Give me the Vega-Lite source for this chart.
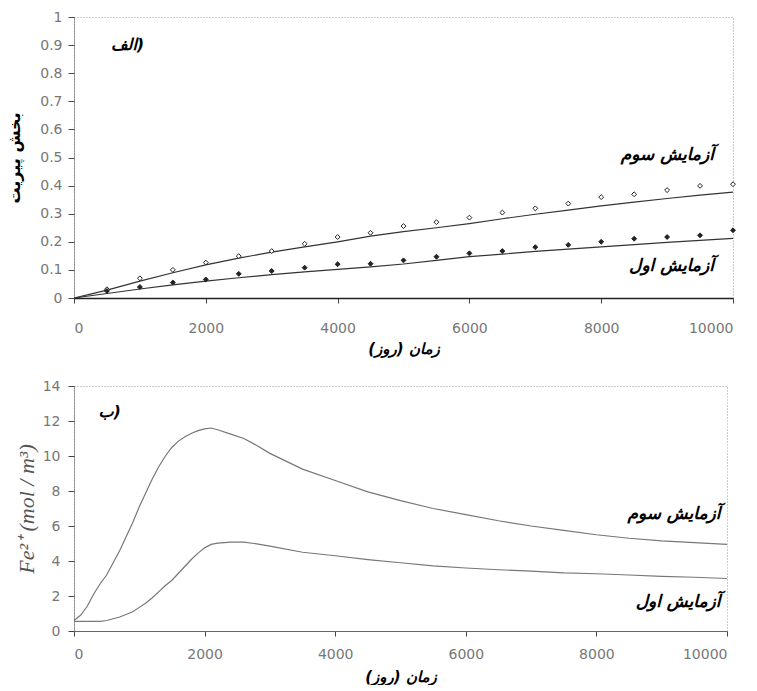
{
  "$schema": "https://vega.github.io/schema/vega-lite/v6.json",
  "background": "white",
  "padding": {"left": 6, "top": 9, "right": 5, "bottom": 0},
  "spacing": 21,
  "config": {
    "view": {"stroke": "#999", "strokeDash": [1, 2], "strokeWidth": 1},
    "axis": {
      "grid": false,
      "labelFont": "DejaVu Sans",
      "labelFontSize": 14,
      "labelColor": "#777",
      "tickColor": "#444",
      "domainColor": "#444"
    },
    "text": {"font": "DejaVu Sans"}
  },
  "datasets": {
    "topLines": [
      {"test": "سوم", "t": 0, "v": 0}, {"test": "سوم", "t": 250, "v": 0.014}, {"test": "سوم", "t": 500, "v": 0.028},
      {"test": "سوم", "t": 1000, "v": 0.06}, {"test": "سوم", "t": 1500, "v": 0.09}, {"test": "سوم", "t": 2000, "v": 0.118},
      {"test": "سوم", "t": 2500, "v": 0.142}, {"test": "سوم", "t": 3000, "v": 0.163}, {"test": "سوم", "t": 3500, "v": 0.182},
      {"test": "سوم", "t": 4000, "v": 0.2}, {"test": "سوم", "t": 4500, "v": 0.22}, {"test": "سوم", "t": 5000, "v": 0.236},
      {"test": "سوم", "t": 5500, "v": 0.25}, {"test": "سوم", "t": 6000, "v": 0.265}, {"test": "سوم", "t": 6500, "v": 0.282},
      {"test": "سوم", "t": 7000, "v": 0.298}, {"test": "سوم", "t": 7500, "v": 0.313}, {"test": "سوم", "t": 8000, "v": 0.328},
      {"test": "سوم", "t": 8500, "v": 0.341}, {"test": "سوم", "t": 9000, "v": 0.354}, {"test": "سوم", "t": 9500, "v": 0.366},
      {"test": "سوم", "t": 10000, "v": 0.377},
      {"test": "اول", "t": 0, "v": 0}, {"test": "اول", "t": 500, "v": 0.016}, {"test": "اول", "t": 1000, "v": 0.032},
      {"test": "اول", "t": 1500, "v": 0.047}, {"test": "اول", "t": 2000, "v": 0.06}, {"test": "اول", "t": 2500, "v": 0.072},
      {"test": "اول", "t": 3000, "v": 0.083}, {"test": "اول", "t": 3500, "v": 0.093}, {"test": "اول", "t": 4000, "v": 0.102},
      {"test": "اول", "t": 4500, "v": 0.111}, {"test": "اول", "t": 5000, "v": 0.121}, {"test": "اول", "t": 5500, "v": 0.134},
      {"test": "اول", "t": 6000, "v": 0.147}, {"test": "اول", "t": 6500, "v": 0.156}, {"test": "اول", "t": 7000, "v": 0.166},
      {"test": "اول", "t": 7500, "v": 0.174}, {"test": "اول", "t": 8000, "v": 0.182}, {"test": "اول", "t": 8500, "v": 0.19},
      {"test": "اول", "t": 9000, "v": 0.198}, {"test": "اول", "t": 9500, "v": 0.205}, {"test": "اول", "t": 10000, "v": 0.212}
    ],
    "topPoints": [
      {"test": "سوم", "t": 500, "v": 0.031}, {"test": "سوم", "t": 1000, "v": 0.07}, {"test": "سوم", "t": 1500, "v": 0.1},
      {"test": "سوم", "t": 2000, "v": 0.126}, {"test": "سوم", "t": 2500, "v": 0.149}, {"test": "سوم", "t": 3000, "v": 0.167},
      {"test": "سوم", "t": 3500, "v": 0.193}, {"test": "سوم", "t": 4000, "v": 0.217}, {"test": "سوم", "t": 4500, "v": 0.232},
      {"test": "سوم", "t": 5000, "v": 0.256}, {"test": "سوم", "t": 5500, "v": 0.27}, {"test": "سوم", "t": 6000, "v": 0.286},
      {"test": "سوم", "t": 6500, "v": 0.304}, {"test": "سوم", "t": 7000, "v": 0.319}, {"test": "سوم", "t": 7500, "v": 0.336},
      {"test": "سوم", "t": 8000, "v": 0.359}, {"test": "سوم", "t": 8500, "v": 0.369}, {"test": "سوم", "t": 9000, "v": 0.384},
      {"test": "سوم", "t": 9500, "v": 0.399}, {"test": "سوم", "t": 10000, "v": 0.405},
      {"test": "اول", "t": 500, "v": 0.025}, {"test": "اول", "t": 1000, "v": 0.039}, {"test": "اول", "t": 1500, "v": 0.055},
      {"test": "اول", "t": 2000, "v": 0.066}, {"test": "اول", "t": 2500, "v": 0.086}, {"test": "اول", "t": 3000, "v": 0.096},
      {"test": "اول", "t": 3500, "v": 0.108}, {"test": "اول", "t": 4000, "v": 0.12}, {"test": "اول", "t": 4500, "v": 0.122},
      {"test": "اول", "t": 5000, "v": 0.134}, {"test": "اول", "t": 5500, "v": 0.147}, {"test": "اول", "t": 6000, "v": 0.159},
      {"test": "اول", "t": 6500, "v": 0.167}, {"test": "اول", "t": 7000, "v": 0.181}, {"test": "اول", "t": 7500, "v": 0.189},
      {"test": "اول", "t": 8000, "v": 0.2}, {"test": "اول", "t": 8500, "v": 0.211}, {"test": "اول", "t": 9000, "v": 0.217},
      {"test": "اول", "t": 9500, "v": 0.223}, {"test": "اول", "t": 10000, "v": 0.241}
    ],
    "topLabels": [
      {"t": 9710, "v": 0.51, "label": "آزمایش سوم"},
      {"t": 9710, "v": 0.115, "label": "آزمایش اول"}
    ],
    "topTag": [{"t": 813, "v": 0.9, "label": "الف)"}],
    "bottomLines": [
      {"test": "سوم", "t": 0, "v": 0.6}, {"test": "سوم", "t": 100, "v": 0.9}, {"test": "سوم", "t": 200, "v": 1.4},
      {"test": "سوم", "t": 300, "v": 2.1}, {"test": "سوم", "t": 400, "v": 2.7}, {"test": "سوم", "t": 500, "v": 3.2},
      {"test": "سوم", "t": 600, "v": 3.9}, {"test": "سوم", "t": 700, "v": 4.6}, {"test": "سوم", "t": 800, "v": 5.4},
      {"test": "سوم", "t": 900, "v": 6.2}, {"test": "سوم", "t": 1000, "v": 7.1}, {"test": "سوم", "t": 1100, "v": 7.9},
      {"test": "سوم", "t": 1200, "v": 8.7}, {"test": "سوم", "t": 1300, "v": 9.4}, {"test": "سوم", "t": 1400, "v": 10.0},
      {"test": "سوم", "t": 1500, "v": 10.5}, {"test": "سوم", "t": 1600, "v": 10.85}, {"test": "سوم", "t": 1700, "v": 11.1},
      {"test": "سوم", "t": 1800, "v": 11.3}, {"test": "سوم", "t": 1900, "v": 11.45}, {"test": "سوم", "t": 2000, "v": 11.55},
      {"test": "سوم", "t": 2100, "v": 11.6}, {"test": "سوم", "t": 2200, "v": 11.5}, {"test": "سوم", "t": 2400, "v": 11.25},
      {"test": "سوم", "t": 2600, "v": 11.0}, {"test": "سوم", "t": 2800, "v": 10.6}, {"test": "سوم", "t": 3000, "v": 10.15},
      {"test": "سوم", "t": 3500, "v": 9.25}, {"test": "سوم", "t": 4000, "v": 8.6}, {"test": "سوم", "t": 4500, "v": 7.95},
      {"test": "سوم", "t": 5000, "v": 7.45}, {"test": "سوم", "t": 5500, "v": 7.0}, {"test": "سوم", "t": 6000, "v": 6.65},
      {"test": "سوم", "t": 6500, "v": 6.3}, {"test": "سوم", "t": 7000, "v": 6.0}, {"test": "سوم", "t": 7500, "v": 5.75},
      {"test": "سوم", "t": 8000, "v": 5.5}, {"test": "سوم", "t": 8500, "v": 5.3}, {"test": "سوم", "t": 9000, "v": 5.15},
      {"test": "سوم", "t": 9500, "v": 5.05}, {"test": "سوم", "t": 10000, "v": 4.95},
      {"test": "اول", "t": 0, "v": 0.55}, {"test": "اول", "t": 400, "v": 0.55}, {"test": "اول", "t": 500, "v": 0.6},
      {"test": "اول", "t": 700, "v": 0.8}, {"test": "اول", "t": 900, "v": 1.1}, {"test": "اول", "t": 1000, "v": 1.35},
      {"test": "اول", "t": 1100, "v": 1.6}, {"test": "اول", "t": 1200, "v": 1.9}, {"test": "اول", "t": 1300, "v": 2.25},
      {"test": "اول", "t": 1400, "v": 2.6}, {"test": "اول", "t": 1500, "v": 2.9}, {"test": "اول", "t": 1600, "v": 3.3},
      {"test": "اول", "t": 1700, "v": 3.7}, {"test": "اول", "t": 1800, "v": 4.1}, {"test": "اول", "t": 1900, "v": 4.45},
      {"test": "اول", "t": 2000, "v": 4.75}, {"test": "اول", "t": 2100, "v": 4.95}, {"test": "اول", "t": 2200, "v": 5.02},
      {"test": "اول", "t": 2400, "v": 5.08}, {"test": "اول", "t": 2600, "v": 5.08}, {"test": "اول", "t": 2800, "v": 4.98},
      {"test": "اول", "t": 3000, "v": 4.85}, {"test": "اول", "t": 3500, "v": 4.5}, {"test": "اول", "t": 4000, "v": 4.3},
      {"test": "اول", "t": 4500, "v": 4.08}, {"test": "اول", "t": 5000, "v": 3.9}, {"test": "اول", "t": 5500, "v": 3.72},
      {"test": "اول", "t": 6000, "v": 3.6}, {"test": "اول", "t": 6500, "v": 3.5}, {"test": "اول", "t": 7000, "v": 3.42},
      {"test": "اول", "t": 7500, "v": 3.32}, {"test": "اول", "t": 8000, "v": 3.27}, {"test": "اول", "t": 8500, "v": 3.2},
      {"test": "اول", "t": 9000, "v": 3.12}, {"test": "اول", "t": 9500, "v": 3.07}, {"test": "اول", "t": 10000, "v": 3.0}
    ],
    "bottomLabels": [
      {"t": 9900, "v": 6.7, "label": "آزمایش سوم"},
      {"t": 9900, "v": 1.65, "label": "آزمایش اول"}
    ],
    "bottomTag": [{"t": 545, "v": 12.5, "label": "ب)"}]
  },
  "vconcat": [
    {
      "width": 659,
      "height": 281,
      "layer": [
        {
          "data": {"name": "topLines"},
          "mark": {"type": "line", "color": "#333", "strokeWidth": 1.2},
          "encoding": {
            "x": {
              "field": "t", "type": "quantitative",
              "scale": {"domain": [0, 10000], "nice": false},
              "axis": {
                "title": "زمان (روز)‏",
                "titleFont": "DejaVu Sans", "titleFontSize": 15, "titleFontWeight": "bold", "titleFontStyle": "italic", "titleColor": "#000",
                "values": [0, 2000, 4000, 6000, 8000, 10000], "format": "d", "labelOverlap": false, "tickCount": 50,
                "tickSize": 5, "labelPadding": 18, "titlePadding": 6,
                "domainColor": "#222", "domainWidth": 1.5
              }
            },
            "y": {
              "field": "v", "type": "quantitative",
              "scale": {"domain": [0, 1], "nice": false},
              "axis": {
                "title": "بخش پیریت",
                "titleFont": "DejaVu Sans", "titleFontSize": 16, "titleFontWeight": "bold", "titleColor": "#000",
                "values": [0, 0.1, 0.2, 0.3, 0.4, 0.5, 0.6, 0.7, 0.8, 0.9, 1], "format": "~g", "labelOverlap": false, "tickCount": 50,
                "tickSize": 6, "labelPadding": 6, "titlePadding": 17,
                "domainDash": [1, 1], "domainColor": "#555"
              }
            },
            "detail": {"field": "test"}
          }
        },
        {
          "data": {"name": "topPoints"},
          "mark": {"type": "point", "shape": "diamond", "size": 24, "filled": true, "stroke": "#222", "strokeWidth": 1, "opacity": 1},
          "encoding": {
            "x": {"field": "t", "type": "quantitative"},
            "y": {"field": "v", "type": "quantitative"},
            "fill": {"field": "test", "type": "nominal", "scale": {"domain": ["اول", "سوم"], "range": ["#222222", "#ffffff"]}, "legend": null}
          }
        },
        {
          "data": {"name": "topLabels"},
          "mark": {"type": "text", "align": "right", "baseline": "middle", "fontSize": 17, "fontWeight": "bold", "fontStyle": "italic", "color": "#000"},
          "encoding": {
            "x": {"field": "t", "type": "quantitative"},
            "y": {"field": "v", "type": "quantitative"},
            "text": {"field": "label"}
          }
        },
        {
          "data": {"name": "topTag"},
          "mark": {"type": "text", "align": "center", "baseline": "middle", "fontSize": 16, "fontWeight": "bold", "fontStyle": "italic", "color": "#000"},
          "encoding": {
            "x": {"field": "t", "type": "quantitative"},
            "y": {"field": "v", "type": "quantitative"},
            "text": {"field": "label"}
          }
        }
      ]
    },
    {
      "width": 653,
      "height": 245,
      "layer": [
        {
          "data": {"name": "bottomLines"},
          "mark": {"type": "line", "color": "#777", "strokeWidth": 1.2},
          "encoding": {
            "x": {
              "field": "t", "type": "quantitative",
              "scale": {"domain": [0, 10000], "nice": false},
              "axis": {
                "title": "زمان (روز)‏",
                "titleFont": "DejaVu Sans", "titleFontSize": 15, "titleFontWeight": "bold", "titleFontStyle": "italic", "titleColor": "#000",
                "values": [0, 2000, 4000, 6000, 8000, 10000], "format": "d", "labelOverlap": false, "tickCount": 50,
                "tickSize": 5, "labelPadding": 11, "titlePadding": 8,
                "domainColor": "#666", "domainWidth": 1
              }
            },
            "y": {
              "field": "v", "type": "quantitative",
              "scale": {"domain": [0, 14], "nice": false},
              "axis": {
                "title": "Fe²⁺ (mol / m³)",
                "titleFont": "Liberation Serif", "titleFontSize": 22, "titleFontWeight": "normal", "titleFontStyle": "italic", "titleColor": "#555",
                "values": [0, 2, 4, 6, 8, 10, 12, 14], "format": "d", "labelOverlap": false, "tickCount": 50,
                "tickSize": 6, "labelPadding": 8, "titlePadding": 4,
                "domainDash": [1, 1], "domainColor": "#555"
              }
            },
            "detail": {"field": "test"}
          }
        },
        {
          "data": {"name": "bottomLabels"},
          "mark": {"type": "text", "align": "right", "baseline": "middle", "fontSize": 17, "fontWeight": "bold", "fontStyle": "italic", "color": "#000"},
          "encoding": {
            "x": {"field": "t", "type": "quantitative"},
            "y": {"field": "v", "type": "quantitative"},
            "text": {"field": "label"}
          }
        },
        {
          "data": {"name": "bottomTag"},
          "mark": {"type": "text", "align": "center", "baseline": "middle", "fontSize": 16, "fontWeight": "bold", "fontStyle": "italic", "color": "#000"},
          "encoding": {
            "x": {"field": "t", "type": "quantitative"},
            "y": {"field": "v", "type": "quantitative"},
            "text": {"field": "label"}
          }
        }
      ]
    }
  ]
}
